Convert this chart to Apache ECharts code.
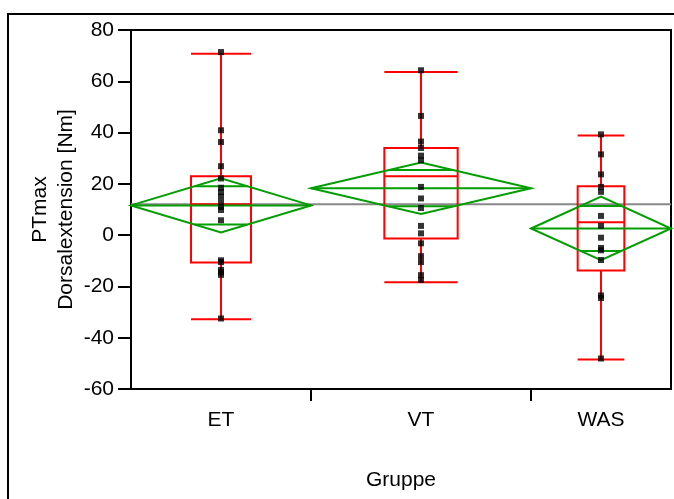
<!DOCTYPE html>
<html>
<head>
<meta charset="utf-8">
<script src="https://cdn.jsdelivr.net/npm/echarts@6/dist/echarts.min.js"></script>
<style>
html,body{margin:0;padding:0;background:#fff;}
#chart{width:674px;height:499px;}
</style>
</head>
<body>
<div id="chart"></div>
<script>
// ---- data ----
const groups = ['ET', 'VT', 'WAS'];
const groupSizes = [18, 22, 14];
const boxMin = [-32.8, -18.4, -48.5];
const boxQ1 = [-10.7, -1.3, -13.8];
const boxMedian = [12.0, 23.0, 5.0];
const boxQ3 = [23.0, 34.0, 19.1];
const boxMax = [70.7, 63.6, 38.9];
const groupMean = [11.6, 18.3, 2.6];
const ciHalf = [10.6, 10.0, 12.4];
const grandMean = 12.0;
const pointsET = [71.4, 40.9, 36.3, 26.9, 22.1, 18.5, 16.8, 15.0, 12.8, 11.0, 9.8, 5.8, -9.8, -10.5, -13.6, -14.5, -15.5, -32.5];
const pointsVT = [64.3, 46.5, 36.5, 34.0, 31.0, 29.2, 18.8, 14.3, 10.6, 3.6, 0.7, -3.2, -8.2, -10.5, -15.6, -17.5];
const pointsWAS = [39.3, 31.5, 23.7, 18.8, 16.9, 7.5, 3.6, -1.0, -5.0, -5.9, -9.7, -23.5, -24.5, -48.1];
const yMin = -60, yMax = 80, yStep = 20;
const xTitle = 'Gruppe';
const yTitle = 'PTmax\nDorsalextension [Nm]';

// ---- derived layout in data units ----
const starts = [];
let acc = 0;
groupSizes.forEach(n => { starts.push(acc); acc += n; });
const total = acc;
const ends = starts.map((s, i) => s + groupSizes[i]);
const centers = starts.map((s, i) => s + groupSizes[i] / 2);
const allPoints = [pointsET, pointsVT, pointsWAS];

const boxData = groups.map((g, i) => [starts[i], ends[i], boxMin[i], boxQ1[i], boxMedian[i], boxQ3[i], boxMax[i]]);
const diamondData = groups.map((g, i) => [starts[i], ends[i], groupMean[i], ciHalf[i]]);
const scatterData = [];
allPoints.forEach((arr, i) => arr.forEach(v => scatterData.push([centers[i], v])));

const RED = '#ff0000', GREEN = '#009e00';
const FONT = '"Liberation Sans", Arial, sans-serif';
const FS = 21;

const chart = echarts.init(document.getElementById('chart'), null, {renderer: 'canvas'});
chart.setOption({
  animation: false,
  backgroundColor: '#fff',
  textStyle: {fontFamily: FONT},
  graphic: [{
    type: 'rect', silent: true,
    shape: {x: 8, y: 14, width: 720, height: 520},
    style: {fill: 'none', stroke: '#000', lineWidth: 2}
  }],
  grid: {left: 131, right: 3, top: 30, bottom: 110, show: true, borderColor: '#000', borderWidth: 2, backgroundColor: 'transparent'},
  xAxis: {
    type: 'value', min: 0, max: total,
    name: xTitle, nameLocation: 'middle', nameGap: 81, nameMoveOverlap: false,
    nameTextStyle: {color: '#000', fontSize: FS, fontFamily: FONT},
    axisLine: {show: true, onZero: false, lineStyle: {color: '#000', width: 2}},
    axisTick: {show: true, customValues: ends.slice(0, -1), length: 12, lineStyle: {color: '#000', width: 2}},
    axisLabel: {show: true, customValues: centers, margin: 21, color: '#000', fontSize: FS, fontFamily: FONT,
      formatter: v => { const k = centers.findIndex(c => Math.abs(c - v) < 1e-6); return k >= 0 ? groups[k] : ''; }},
    splitLine: {show: false}
  },
  yAxis: {
    type: 'value', min: yMin, max: yMax, interval: yStep,
    name: yTitle, nameLocation: 'middle', nameGap: 52, nameRotate: 90, nameMoveOverlap: false,
    nameTextStyle: {color: '#000', fontSize: FS, fontFamily: FONT, lineHeight: 26, align: 'center'},
    axisLine: {show: true, onZero: false, lineStyle: {color: '#000', width: 2}},
    axisTick: {show: true, length: 13, lineStyle: {color: '#000', width: 2}},
    axisLabel: {margin: 17, color: '#000', fontSize: FS, fontFamily: FONT},
    splitLine: {show: false}
  },
  series: [
    {
      type: 'line', data: [[0, grandMean], [total, grandMean]], symbol: 'none',
      lineStyle: {color: '#888', width: 2}, z: 1, silent: true
    },
    {
      type: 'custom', data: boxData, z: 2, silent: true,
      renderItem: function (params, api) {
        const x0 = api.value(0), x1 = api.value(1);
        const w = (x1 - x0) / 3;
        const c = (x0 + x1) / 2;
        const L = c - w / 2, R = c + w / 2;
        const mn = api.value(2), q1 = api.value(3), md = api.value(4), q3 = api.value(5), mx = api.value(6);
        const p = (x, y) => api.coord([x, y]);
        const st = {stroke: RED, lineWidth: 2, fill: 'none'};
        const line = (a, b) => ({type: 'line', shape: {x1: a[0], y1: a[1], x2: b[0], y2: b[1]}, style: st});
        const tl = p(L, q3), br = p(R, q1);
        return {type: 'group', children: [
          line(p(c, q3), p(c, mx)),
          line(p(c, q1), p(c, mn)),
          line(p(L, mx), p(R, mx)),
          line(p(L, mn), p(R, mn)),
          {type: 'rect', shape: {x: tl[0], y: tl[1], width: br[0] - tl[0], height: br[1] - tl[1]}, style: st},
          line(p(L, md), p(R, md))
        ]};
      }
    },
    {
      type: 'custom', data: diamondData, z: 3, silent: true,
      renderItem: function (params, api) {
        const x0 = api.value(0), x1 = api.value(1), m = api.value(2), h = api.value(3);
        const c = (x0 + x1) / 2;
        const p = (x, y) => api.coord([x, y]);
        const st = {stroke: GREEN, lineWidth: 2, fill: 'none'};
        const line = (a, b) => ({type: 'line', shape: {x1: a[0], y1: a[1], x2: b[0], y2: b[1]}, style: st});
        const o = h / Math.SQRT2;
        const frac = 1 - o / h;
        const half = (x1 - x0) / 2 * frac;
        return {type: 'group', children: [
          {type: 'polygon', shape: {points: [p(x0, m), p(c, m + h), p(x1, m), p(c, m - h)]}, style: st},
          line(p(x0, m), p(x1, m)),
          line(p(c - half, m + o), p(c + half, m + o)),
          line(p(c - half, m - o), p(c + half, m - o))
        ]};
      }
    },
    {
      type: 'scatter', data: scatterData, symbol: 'rect', symbolSize: 6, z: 4, silent: true,
      itemStyle: {color: '#000'}
    }
  ]
});
</script>
</body>
</html>
